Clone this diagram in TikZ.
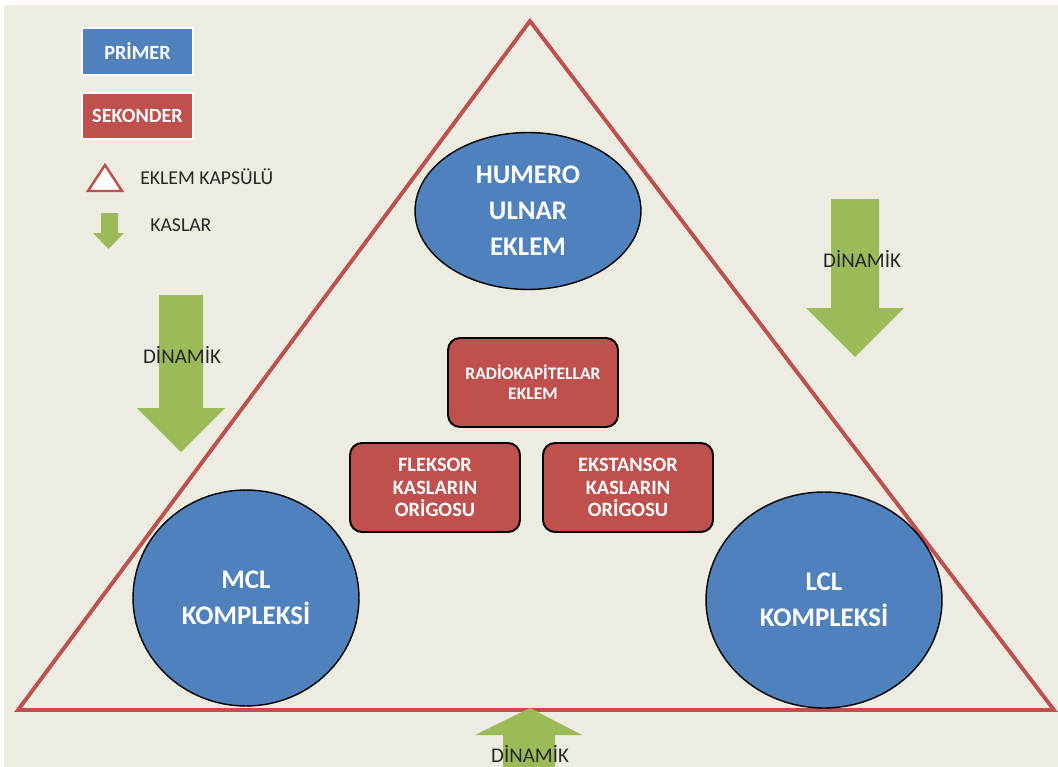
\documentclass[tikz,border=0pt]{standalone}
\usepackage{fontspec}
\setmainfont{Carlito}
\usetikzlibrary{calc, positioning, shapes.geometric}

\definecolor{office-blue}{HTML}{4F81BD}
\definecolor{office-red}{HTML}{C0504D}
\definecolor{office-green}{HTML}{9BBB59}
\definecolor{office-beige}{HTML}{EEECE1}

\tikzset{
  primer-ellipse/.style={ellipse, draw=black, line width=0.8pt, fill=office-blue, text=white,
    inner sep=0pt, align=center, font=\fontsize{15.3}{20.5}\selectfont\bfseries},
  sekonder-box/.style={rectangle, rounded corners=0.24cm, draw=black, line width=1.1pt,
    fill=office-red, text=white, align=center, minimum width=3.4cm, minimum height=1.78cm,
    font=\fontsize{11.6}{13}\selectfont\bfseries},
  legend-box/.style={rectangle, draw=white, line width=1.1pt, text=white, minimum width=2.22cm,
    minimum height=0.93cm, font=\fontsize{11.5}{13}\selectfont\bfseries},
  muscle-label/.style={text=black!85, inner sep=0pt, font=\fontsize{11.9}{13}\selectfont},
  legend-label/.style={text=black!85, anchor=west, inner sep=0pt, font=\fontsize{11.2}{13}\selectfont},
}

\begin{document}
\begin{tikzpicture}[x=0.02cm, y=-0.02cm]

  \useasboundingbox (0,0) rectangle (1058,767);
  \fill[white] (0,0) rectangle (1058,767);
  \fill[office-beige] (4,5) rectangle (1058,767);

  % joint capsule
  \coordinate (capsule-top)   at (530, 21);
  \coordinate (capsule-left)  at (18, 710);
  \coordinate (capsule-right) at (1054, 710);
  \draw[office-red, line width=2.2pt, line join=miter] (capsule-top) -- (capsule-left) -- (capsule-right) -- cycle;

  % primary stabilisers
  \node[primer-ellipse, minimum width=4.52cm, minimum height=3.14cm] (humero-ulnar) at (528, 211) {HUMERO\\ULNAR\\EKLEM};
  \node[primer-ellipse, minimum width=4.52cm, minimum height=4.32cm] (mcl) at (246, 598) {MCL\\KOMPLEKSİ};
  \node[primer-ellipse, minimum width=4.72cm, minimum height=4.32cm] (lcl) at (824, 600) {LCL\\KOMPLEKSİ};

  % secondary stabilisers
  \node[sekonder-box, font=\fontsize{10}{11.3}\selectfont\bfseries] (radiokapitellar) at (533, 382.5) {RADİOKAPİTELLAR\\EKLEM};
  \node[sekonder-box] (fleksor)   at (435, 487.5) {FLEKSOR\\KASLARIN\\ORİGOSU};
  \node[sekonder-box] (ekstansor) at (628, 487.5) {EKSTANSOR\\KASLARIN\\ORİGOSU};

  % dynamic stabilisers
  \fill[office-green] (159,295) -- (203,295) -- (203,408) -- (225,408) -- (181,452) -- (137,408) -- (159,408) -- cycle;
  \fill[office-green] (831,199) -- (879,199) -- (879,308) -- (904,308) -- (855,357) -- (806,308) -- (831,308) -- cycle;
  \fill[office-green] (503,767) -- (503,735) -- (475,735) -- (530,708) -- (582,735) -- (555,735) -- (555,767) -- cycle;
  \node[muscle-label] (dinamik-left)   at (182, 355) {DİNAMİK};
  \node[muscle-label] (dinamik-right)  at (862, 259) {DİNAMİK};
  \node[muscle-label] (dinamik-bottom) at (530, 754) {DİNAMİK};

  % legend
  \node[legend-box, fill=office-blue] (legend-primer)   at (137.5, 51.5) {PRİMER};
  \node[legend-box, fill=office-red]  (legend-sekonder) at (137.5, 116)  {SEKONDER};
  \draw[office-red, fill=white, line width=1.4pt, line join=miter] (88,191) -- (122,191) -- (105,165) -- cycle;
  \node[legend-label] (legend-capsule) at (140, 177) {EKLEM KAPSÜLÜ};
  \fill[office-green] (101,213) -- (118,213) -- (118,233) -- (124,233) -- (108.5,249) -- (93,233) -- (101,233) -- cycle;
  \node[legend-label] (legend-muscle) at (150, 225) {KASLAR};

\end{tikzpicture}
\end{document}
